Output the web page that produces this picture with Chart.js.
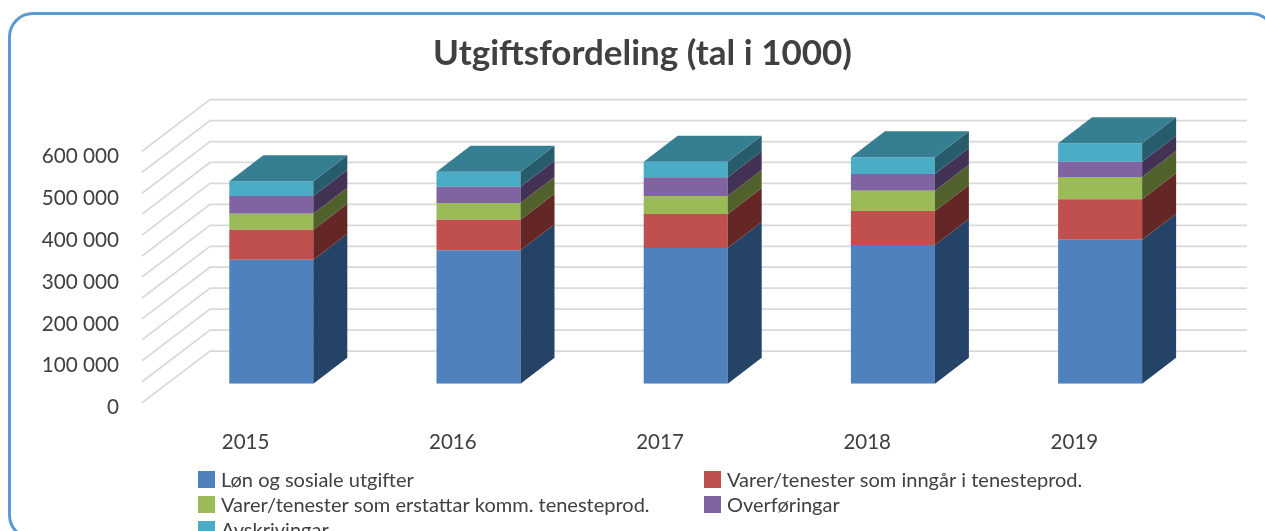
<!DOCTYPE html>
<html lang="nn">
<head>
    <meta charset="UTF-8">
    <title>Utgiftsfordeling</title>
    <script src="https://cdn.jsdelivr.net/npm/chart.js"></script>
    <style>
        html, body { margin: 0; padding: 0; width: 1265px; height: 531px; overflow: hidden; background: #fff; }
        #frame { position: absolute; left: 8px; top: 12px; width: 1268px; height: 528px; border: 3px solid #5B9BD5; border-radius: 25px; box-sizing: border-box; }
        #chart { position: absolute; left: 0; top: 0; }
    </style>
</head>
<body>
    <div id="frame"></div>
    <canvas id="chart" width="1265" height="531"></canvas>

    <script>
        // data (tal i 1000)
        const years = ['2015', '2016', '2017', '2018', '2019'];
        const seriesNames = [
            'Løn og sosiale utgifter',
            'Varer/tenester som inngår i tenesteprod.',
            'Varer/tenester som erstattar komm. tenesteprod.',
            'Overføringar',
            'Avskrivingar'
        ];
        const lon = [295900, 318400, 323900, 331000, 343700];
        const varerInngar = [71600, 73000, 81100, 81100, 96400];
        const varerErstattar = [38200, 39900, 43000, 48400, 53200];
        const overforingar = [42200, 38900, 44600, 39900, 36500];
        const avskrivingar = [35100, 35800, 37200, 39900, 43900];

        const frontColors = ['#4F81BD', '#C0504D', '#9BBB59', '#8064A2', '#4BACC6'];
        const sideColors = ['#254367', '#652725', '#51612C', '#433254', '#265C6B'];
        const topColor = '#367F93';
        const textColor = '#404040';
        const labelFont = 'Lato, "Open Sans", sans-serif';

        // 3D look: the walls and the bar depth, in pixels
        const floorFrontY = 19;
        const wallDepthX = 68;
        const wallDepthY = 51.7;
        const barDepthX = 34;
        const barDepthY = 26;
        const gridStep = 50000;

        const walls = {
            id: 'walls',
            beforeDatasetsDraw(chart) {
                const { ctx, scales: { y } } = chart;
                const frontX = 142;
                const rightX = 1247;
                ctx.save();
                ctx.strokeStyle = '#D9D9D9';
                ctx.lineWidth = 1.75;
                for (let v = y.min; v <= y.max; v += gridStep) {
                    const py = y.getPixelForValue(v) + floorFrontY;
                    ctx.beginPath();
                    ctx.moveTo(frontX, py);
                    ctx.lineTo(frontX + wallDepthX, py - wallDepthY);
                    ctx.lineTo(rightX, py - wallDepthY);
                    ctx.stroke();
                }
                ctx.restore();
            }
        };

        function polygon(ctx, color, pts) {
            ctx.fillStyle = color;
            ctx.beginPath();
            pts.forEach((p, i) => i ? ctx.lineTo(p[0], p[1]) : ctx.moveTo(p[0], p[1]));
            ctx.closePath();
            ctx.fill();
        }

        const barSides = {
            id: 'barSides',
            afterDatasetsDraw(chart) {
                const ctx = chart.ctx;
                const last = chart.data.datasets.length - 1;
                chart.data.datasets.forEach((ds, i) => {
                    chart.getDatasetMeta(i).data.forEach(bar => {
                        const left = bar.x - bar.width / 2;
                        const right = bar.x + bar.width / 2;
                        polygon(ctx, sideColors[i], [
                            [right, bar.y], [right + barDepthX, bar.y - barDepthY],
                            [right + barDepthX, bar.base - barDepthY], [right, bar.base]
                        ]);
                        if (i === last) {
                            polygon(ctx, topColor, [
                                [left, bar.y], [left + barDepthX, bar.y - barDepthY],
                                [right + barDepthX, bar.y - barDepthY], [right, bar.y]
                            ]);
                        }
                    });
                });
            }
        };

        // two column legend, the third row runs off the bottom of the picture
        const columnLegend = {
            id: 'columnLegend',
            afterDraw(chart) {
                const ctx = chart.ctx;
                const columns = [198, 704];
                const firstRow = 471;
                const rowHeight = 25;
                const box = 17;
                ctx.save();
                ctx.font = '20px ' + labelFont;
                ctx.textBaseline = 'middle';
                chart.data.datasets.forEach((ds, i) => {
                    const x = columns[i % 2];
                    const y = firstRow + rowHeight * Math.floor(i / 2);
                    ctx.fillStyle = ds.backgroundColor;
                    ctx.fillRect(x, y, box, box);
                    ctx.fillStyle = textColor;
                    ctx.fillText(ds.label, x + box + 6, y + box / 2 + 1);
                });
                ctx.restore();
            }
        };

        const seriesValues = [lon, varerInngar, varerErstattar, overforingar, avskrivingar];

        new Chart(document.getElementById('chart'), {
            type: 'bar',
            data: {
                labels: years,
                datasets: seriesNames.map((name, i) => ({
                    label: name,
                    data: seriesValues[i],
                    backgroundColor: frontColors[i],
                    borderWidth: 0,
                    barPercentage: 1,
                    categoryPercentage: 0.4054
                }))
            },
            plugins: [walls, barSides, columnLegend],
            options: {
                responsive: false,
                animation: false,
                layout: { padding: { left: 20 } },
                plugins: {
                    legend: { display: false },
                    tooltip: { enabled: false },
                    title: {
                        display: true,
                        text: 'Utgiftsfordeling (tal i 1000)',
                        color: '#404040',
                        font: { family: labelFont, size: 35, weight: 'bold', lineHeight: 1.2 },
                        padding: { top: 33, bottom: 57.3 }
                    }
                },
                scales: {
                    x: {
                        stacked: true,
                        grid: { display: false },
                        border: { display: false },
                        ticks: {
                            color: textColor,
                            font: { family: labelFont, size: 20.5 },
                            padding: 38,
                            labelOffset: -25.7,
                            autoSkip: false,
                            maxRotation: 0
                        },
                        afterFit(scale) { scale.height = 147.3; }
                    },
                    y: {
                        stacked: true,
                        min: 0,
                        max: 600000,
                        grid: { display: false },
                        border: { display: false },
                        ticks: {
                            stepSize: 100000,
                            color: textColor,
                            font: { family: labelFont, size: 20.7 },
                            padding: 40.7,
                            labelOffset: 24,
                            autoSkip: false,
                            callback: v => String(v).replace(/\B(?=(\d{3})+$)/g, ' ')
                        },
                        afterFit(scale) { scale.width = 147.7; }
                    },
                    // empty axis, only keeps the plot clear of the right edge
                    rightGap: {
                        position: 'right',
                        grid: { display: false },
                        border: { display: false },
                        ticks: { display: false },
                        afterFit(scale) { scale.width = 61.3; }
                    }
                }
            }
        });
    </script>
</body>
</html>
